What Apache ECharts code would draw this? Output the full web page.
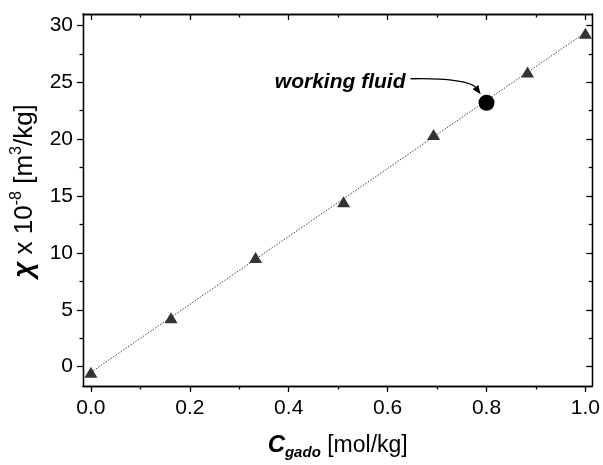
<!DOCTYPE html>
<html><head><meta charset="utf-8">
<script src="https://cdn.jsdelivr.net/npm/echarts@6/dist/echarts.min.js"></script>
<style>html,body{margin:0;padding:0;background:#fff}#c{width:603px;height:465px}</style>
</head><body><div id="c"></div>
<script>
// Data
const xVals = [0, 0.162, 0.333, 0.511, 0.693, 0.883, 1.0];
const yVals = [-0.5, 4.3, 9.6, 14.5, 20.4, 25.9, 29.3];
const wfX = [0.8];
const wfY = [23.2];
const wfLabel = 'working fluid';
const xTicks = [0, 0.2, 0.4, 0.6, 0.8, 1.0];
const xMinor = [0.1, 0.3, 0.5, 0.7, 0.9];
const yTicks = [0, 5, 10, 15, 20, 25, 30];
const yMinor = [2.5, 7.5, 12.5, 17.5, 22.5, 27.5];

// linear fit through triangle data
const n = xVals.length;
const mx = xVals.reduce((a, b) => a + b, 0) / n;
const my = yVals.reduce((a, b) => a + b, 0) / n;
let sxy = 0, sxx = 0;
for (let i = 0; i < n; i++) { sxy += (xVals[i] - mx) * (yVals[i] - my); sxx += (xVals[i] - mx) ** 2; }
const slope = sxy / sxx, icpt = my - slope * mx;
const x0 = Math.min(...xVals), x1 = Math.max(...xVals);
const fitLine = [[x0, icpt + slope * x0], [x1, icpt + slope * x1]];

const FONT = '"Liberation Sans", Arial, sans-serif';
const XMIN = -0.016, XMAX = 1.014, YMIN = -1.7, YMAX = 31;
const lineStyle = { color: '#000', width: 1.3 };

function xa(pos, vals, len, inside, labels) {
  return {
    type: 'value', position: pos, min: XMIN, max: XMAX,
    axisLine: { show: true, onZero: false, lineStyle },
    axisTick: { show: true, customValues: vals, length: len, inside, lineStyle },
    axisLabel: labels ? { show: true, customValues: vals, formatter: v => v.toFixed(1), fontFamily: FONT, fontSize: 21, color: '#000', margin: 12 } : { show: false },
    splitLine: { show: false }
  };
}
function ya(pos, vals, len, inside, labels) {
  return {
    type: 'value', position: pos, min: YMIN, max: YMAX,
    axisLine: { show: true, onZero: false, lineStyle },
    axisTick: { show: true, customValues: vals, length: len, inside, lineStyle },
    axisLabel: labels ? { show: true, customValues: vals, fontFamily: FONT, fontSize: 21, color: '#000', margin: 10 } : { show: false },
    splitLine: { show: false }
  };
}

const xMain = xa('bottom', xTicks, 6, false, true);
xMain.name = '{c|C}{sub|gado}{t| [mol/kg]}';
xMain.nameLocation = 'middle';
xMain.nameGap = 45;
xMain.nameTextStyle = {
  rich: {
    c: { fontFamily: FONT, fontSize: 24, fontWeight: 'bold', fontStyle: 'italic', color: '#000' },
    sub: { fontFamily: FONT, fontSize: 15, fontWeight: 'bold', fontStyle: 'italic', color: '#000', padding: [14, 0, 0, 0] },
    t: { fontFamily: FONT, fontSize: 23, color: '#000' }
  }
};
const yMain = ya('left', yTicks, 6, false, true);
yMain.name = '{chi|χ}{t| x 10}{sup|-8}{t| [m}{sup|3}{t|/kg]}';
yMain.nameLocation = 'middle';
yMain.nameGap = 40;
yMain.nameRotate = 90;
yMain.nameTextStyle = {
  padding: [0, 0, 0, 18],
  rich: {
    chi: { fontFamily: FONT, fontSize: 28, fontWeight: 'bold', fontStyle: 'italic', color: '#000' },
    t: { fontFamily: FONT, fontSize: 26, color: '#000' },
    sup: { fontFamily: FONT, fontSize: 16, color: '#000', padding: [0, 0, 16, 0] }
  }
};

const chart = echarts.init(document.getElementById('c'), null, { renderer: 'canvas' });
chart.setOption({
  animation: false,
  backgroundColor: '#fff',
  grid: { left: 83, right: 10, top: 14, bottom: 77, containLabel: false },
  xAxis: [
    xMain,
    xa('bottom', xMinor, 3.5, false, false),
    xa('top', xTicks, 6, true, false),
    xa('top', xMinor, 3.5, true, false)
  ],
  yAxis: [
    yMain,
    ya('left', yMinor, 3.5, false, false),
    ya('right', yTicks, 6, true, false),
    ya('right', yMinor, 3.5, true, false)
  ],
  series: [
    {
      type: 'line', data: fitLine, symbol: 'none', silent: true,
      lineStyle: { color: '#444', width: 1, type: [1.5, 1.5] }, z: 1
    },
    {
      type: 'scatter', data: xVals.map((x, i) => [x, yVals[i]]),
      symbol: 'triangle', symbolSize: [13, 11],
      itemStyle: { color: '#333', opacity: 1 }, z: 3
    },
    {
      type: 'scatter', data: wfX.map((x, i) => [x, wfY[i]]),
      symbol: 'circle', symbolSize: 16,
      itemStyle: { color: '#000', opacity: 1 }, z: 4
    }
  ]
});

const p = chart.convertToPixel({ xAxisIndex: 0, yAxisIndex: 0 }, [wfX[0], wfY[0]]);
const px = p[0], py = p[1];
const s = [px - 76, py - 24], c1 = [px - 40, py - 25], c2 = [px - 15, py - 21], e = [px - 7, py - 10];
let dx = e[0] - c2[0], dy = e[1] - c2[1];
const dl = Math.hypot(dx, dy); dx /= dl; dy /= dl;
const tip = [e[0] + dx * 2, e[1] + dy * 2];
const base = [e[0] - dx * 7, e[1] - dy * 7];
const head = [tip, [base[0] - dy * 3.5, base[1] + dx * 3.5], [base[0] + dy * 3.5, base[1] - dx * 3.5]];
chart.setOption({
  graphic: [
    { type: 'text', x: px - 81, y: py - 21, style: { text: wfLabel, fontFamily: FONT, fontSize: 21, fontWeight: 'bold', fontStyle: 'italic', fill: '#000', align: 'right', verticalAlign: 'middle' }, z: 10 },
    { type: 'bezierCurve', shape: { x1: s[0], y1: s[1], cpx1: c1[0], cpy1: c1[1], cpx2: c2[0], cpy2: c2[1], x2: base[0], y2: base[1] }, style: { stroke: '#000', lineWidth: 1.3, fill: null }, z: 10 },
    { type: 'polygon', shape: { points: head }, style: { fill: '#000' }, z: 10 }
  ]
});
</script></body></html>
